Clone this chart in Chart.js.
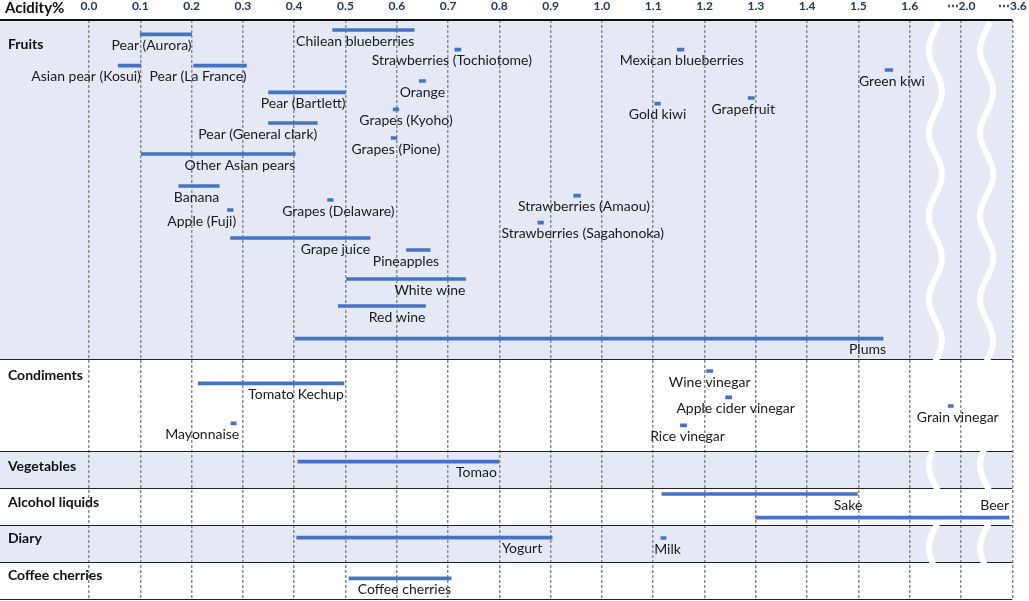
<!DOCTYPE html>
<html>
<head>
<meta charset="utf-8">
<script src="https://cdn.jsdelivr.net/npm/chart.js@4.4.1/dist/chart.umd.min.js"></script>
<style>
  html, body { margin: 0; padding: 0; background: #fff; }
  #wrap { width: 1029px; height: 601px; position: relative; }
</style>
</head>
<body>
<div id="wrap"><canvas id="chart"></canvas></div>
<script>
// acidity ranges (%), lanes are vertical slots (top = 0)
var items = ['Pear (Aurora)', 'Chilean blueberries', 'Strawberries (Tochiotome)', 'Mexican blueberries',
  'Asian pear (Kosui)', 'Pear (La France)', 'Orange', 'Green kiwi', 'Pear (Bartlett)', 'Gold kiwi',
  'Grapefruit', 'Grapes (Kyoho)', 'Pear (General clark)', 'Grapes (Pione)', 'Other Asian pears',
  'Banana', 'Grapes (Delaware)', 'Apple (Fuji)', 'Strawberries (Amaou)', 'Strawberries (Sagahonoka)',
  'Grape juice', 'Pineapples', 'White wine', 'Red wine', 'Plums',
  'Tomato Kechup', 'Wine vinegar', 'Apple cider vinegar', 'Grain vinegar', 'Rice vinegar', 'Mayonnaise',
  'Tomao', 'Sake', 'Beer', 'Yogurt', 'Milk', 'Coffee cherries'];
var lows = [0.10, 0.475, 0.713, 1.147, 0.057, 0.204, 0.644, 1.552, 0.35, 1.103,
  1.285, 0.593, 0.35, 0.589, 0.102, 0.175, 0.465, 0.270, 0.945, 0.875,
  0.276, 0.619, 0.502, 0.486, 0.402,
  0.213, 1.204, 1.241, 1.90, 1.153, 0.277,
  0.407, 1.117, 1.30, 0.405, 1.115, 0.507];
var highs = [0.20, 0.634, 0.725, 1.160, 0.101, 0.307, 0.656, 1.567, 0.50, 1.114,
  1.297, 0.604, 0.445, 0.600, 0.402, 0.254, 0.476, 0.281, 0.958, 0.886,
  0.548, 0.665, 0.734, 0.656, 1.548,
  0.497, 1.216, 1.253, 1.94, 1.165, 0.287,
  0.799, 1.498, 3.50, 0.903, 1.125, 0.706];
var lanes = [1.43, 1.0, 2.97, 2.97, 4.57, 4.57, 6.1, 5.0, 7.23, 8.37,
  7.8, 8.93, 10.3, 11.8, 13.4, 16.6, 18.0, 19.0, 17.57, 20.27,
  21.8, 23.0, 25.9, 28.6, 31.87,
  36.33, 35.1, 37.73, 38.6, 40.53, 40.33,
  44.17, 47.4, 49.77, 51.77, 51.8, 55.83];

var groups = ['Fruits', 'Condiments', 'Vegetables', 'Alcohol liquids', 'Diary', 'Coffee cherries'];
var groupTop = [0, 34, 43.2, 46.9, 50.6, 54.3];
var groupEnd = [34, 43.2, 46.9, 50.6, 54.3, 58];
var groupLabelLane = [2.4, 35.5, 44.67, 48.27, 51.83, 55.5];
var groupShaded = [true, false, true, false, true, false];

var tickReal = [0, 0.1, 0.2, 0.3, 0.4, 0.5, 0.6, 0.7, 0.8, 0.9, 1.0, 1.1, 1.2, 1.3, 1.4, 1.5, 1.6, 2.0, 3.6];
var tickLabels = tickReal.map(function (v) { return v > 1.6 ? '\u22EF' + v.toFixed(1) : v.toFixed(1); });

// label placement: 'end' = right edge at bar end, 'mid' = centred on bar; dx in px
var labelMode = {
  'Strawberries (Tochiotome)': ['mid', -6], 'Mexican blueberries': ['mid', 1], 'Orange': ['mid', 0],
  'Green kiwi': ['mid', 3], 'Gold kiwi': ['mid', 0], 'Grapefruit': ['mid', -8], 'Grapes (Kyoho)': ['mid', 10],
  'Grapes (Pione)': ['mid', 2], 'Grapes (Delaware)': ['mid', 8], 'Strawberries (Amaou)': ['mid', 7],
  'Strawberries (Sagahonoka)': ['mid', 42], 'Wine vinegar': ['mid', 0], 'Apple cider vinegar': ['mid', 7],
  'Rice vinegar': ['mid', 4], 'Grain vinegar': ['mid', 7], 'Milk': ['mid', 4],
  'Apple (Fuji)': ['end', 3], 'Pineapples': ['end', 9], 'Plums': ['end', 3], 'Mayonnaise': ['end', 3],
  'Tomao': ['end', -2], 'Sake': ['end', 5], 'Yogurt': ['end', -10], 'Beer': ['end', 0, -12]
};

// broken axis: 1.6-2.0 and 2.0-3.6 squeezed into one step each
function toAxis(v) {
  if (v <= 1.6) return v;
  if (v <= 2.0) return 1.6 + (v - 1.6) / 4;
  return 1.7 + (v - 2.0) / 16;
}

var barData = items.map(function (name, i) {
  return { x: [toAxis(lows[i]), toAxis(highs[i])], y: lanes[i] };
});

var FONT = 'Lato, "Noto Sans", sans-serif';

var layers = {
  id: 'layers',
  beforeDraw: function (chart) {
    var ctx = chart.ctx, a = chart.chartArea, ys = chart.scales.y;
    ctx.save();
    groups.forEach(function (g, i) {
      if (!groupShaded[i]) return;
      var t = ys.getPixelForValue(groupTop[i]), b = ys.getPixelForValue(groupEnd[i]);
      ctx.fillStyle = '#e5e9f5';
      ctx.fillRect(a.left, t, a.right - a.left, b - t);
    });
    ctx.restore();
  },
  beforeDatasetsDraw: function (chart) {
    var ctx = chart.ctx, a = chart.chartArea, ys = chart.scales.y, xs = chart.scales.x;
    ctx.save();
    ctx.strokeStyle = '#222';
    ctx.lineWidth = 1;
    groupEnd.forEach(function (e) {
      var y = Math.round(ys.getPixelForValue(e)) - 0.5;
      ctx.beginPath();
      ctx.moveTo(a.left, y);
      ctx.lineTo(a.right, y);
      ctx.stroke();
    });
    ctx.strokeStyle = '#111';
    ctx.lineWidth = 2;
    ctx.beginPath();
    ctx.moveTo(a.left, a.top);
    ctx.lineTo(a.right, a.top);
    ctx.stroke();
    // white wavy break marks
    ctx.strokeStyle = '#fff';
    ctx.lineWidth = 6;
    [1.65, 1.75].forEach(function (c) {
      var cx = xs.getPixelForValue(c);
      ctx.beginPath();
      for (var y = a.top + 2; y <= a.bottom - 3; y += 1) {
        var x = cx - 6.5 * Math.cos(2 * Math.PI * (y - 50) / 83);
        if (y === a.top + 2) ctx.moveTo(x, y); else ctx.lineTo(x, y);
      }
      ctx.stroke();
    });
    ctx.restore();
  },
  afterDatasetsDraw: function (chart) {
    var ctx = chart.ctx, ys = chart.scales.y, xs = chart.scales.x;
    ctx.save();
    ctx.fillStyle = '#1a1a1a';
    ctx.font = '14px ' + FONT;
    ctx.textBaseline = 'middle';
    items.forEach(function (name, i) {
      var m = labelMode[name] || ['end', 0];
      var lo = xs.getPixelForValue(toAxis(lows[i])), hi = xs.getPixelForValue(toAxis(highs[i]));
      var y = ys.getPixelForValue(lanes[i]) + (m[2] !== undefined ? m[2] : 11);
      if (m[0] === 'mid') {
        ctx.textAlign = 'center';
        ctx.fillText(name, (lo + hi) / 2 + m[1], y);
      } else {
        ctx.textAlign = 'right';
        ctx.fillText(name, hi + m[1], y);
      }
    });
    ctx.font = 'bold 14px ' + FONT;
    ctx.textAlign = 'left';
    ctx.fillStyle = '#111';
    groups.forEach(function (g, i) {
      ctx.fillText(g, 8, ys.getPixelForValue(groupLabelLane[i]));
    });
    ctx.font = 'bold 15px ' + FONT;
    ctx.fillText('Acidity%', 5, 8);
    ctx.restore();
  }
};

new Chart('chart', {
  type: 'bar',
  data: {
    datasets: [{
      data: barData,
      backgroundColor: '#4472c4',
      barThickness: 3,
      borderWidth: 0
    }]
  },
  options: {
    indexAxis: 'y',
    responsive: true,
    maintainAspectRatio: false,
    animation: false,
    layout: { padding: { top: 0, right: 16.7, bottom: 1, left: 0 } },
    plugins: { legend: { display: false }, tooltip: { enabled: false } },
    scales: {
      x: {
        type: 'linear',
        position: 'top',
        min: -0.1735,
        max: 1.8,
        afterBuildTicks: function (s) {
          s.ticks = tickReal.map(function (v) { return { value: toAxis(v) }; });
        },
        afterFit: function (s) {
          s.height = 20;
          s.paddingLeft = 0;
          s.paddingRight = 0;
        },
        ticks: {
          autoSkip: false,
          maxRotation: 0,
          padding: 6.5,
          color: '#1f3864',
          font: { family: FONT, size: 12, weight: 'bold' },
          callback: function (v, i) { return tickLabels[i]; }
        },
        grid: { color: '#8c8c8c', lineWidth: 1.5, drawTicks: false },
        border: { display: false, dash: [3, 2] }
      },
      y: { type: 'linear', min: 0, max: 58, reverse: true, offset: false, display: false }
    }
  },
  plugins: [layers]
});
</script>
</body>
</html>
